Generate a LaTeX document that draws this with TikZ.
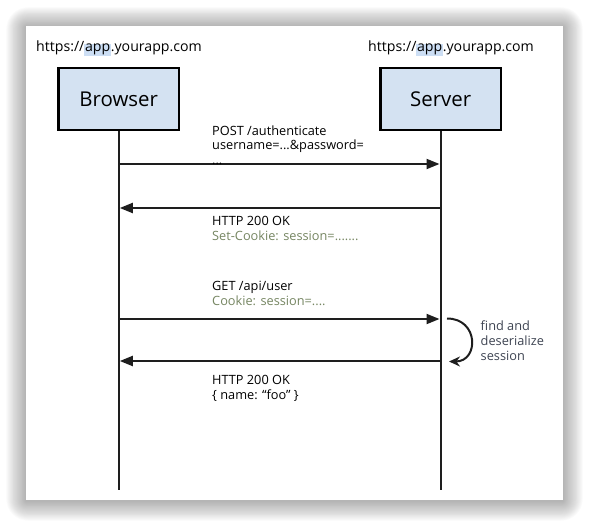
\documentclass[tikz,border=0pt]{standalone}
\usepackage{fontspec}
\setmainfont{Open Sans}
\usepackage{tikz}
\usetikzlibrary{positioning, arrows.meta}
\usepackage{xcolor}

\definecolor{boxblue}{RGB}{212,226,242}
\definecolor{hlblue}{RGB}{204,222,244}
\definecolor{cookiegreen}{RGB}{118,134,98}
\definecolor{notegray}{RGB}{62,68,82}
\definecolor{lifeline}{RGB}{30,30,30}

\newcommand{\urltext}{https://{\setlength{\fboxsep}{0.6pt}\colorbox{hlblue}{app}}.yourapp.com}

\tikzset{
  actor/.style={draw=black, line width=2.2, fill=boxblue, minimum width=121,
    minimum height=63, font=\fontsize{20.5}{24}\selectfont},
  url/.style={anchor=base west, inner sep=0, font=\fontsize{14.2}{16}\selectfont},
  msg/.style={anchor=north west, inner sep=0, align=left,
    font=\fontsize{12.8}{14.5}\selectfont},
  note/.style={anchor=north west, inner sep=0, align=left, text=notegray,
    font=\fontsize{12.8}{15}\selectfont},
  life/.style={lifeline, line width=2},
  call/.style={lifeline, line width=2, -{Triangle[length=13, width=10]}},
}

\begin{document}
\begin{tikzpicture}[x=1bp, y=-1bp]
    \useasboundingbox (0,0) rectangle (589,527);

    % card with soft shadow
    \foreach \i in {1,...,22}
        \fill[black, opacity=0.016, rounded corners=\i] (26-\i*0.9, 27-\i*0.9) rectangle (563+\i*0.9, 501+\i*0.9);
    \fill[white] (26,26) rectangle (563,500);

    % urls
    \node[url] (burl) at (36,52) {\urltext};
    \node[url] (surl) at (368,52) {\urltext};

    % actors
    \node[actor] (browser) at (118.7,99) {Browser};
    \node[actor] (server) at (440.7,99) {Server};

    % lifelines
    \coordinate (bend) at (118.7,490);
    \coordinate (send) at (440.7,490);
    \draw[life] (browser.south) -- (bend);
    \draw[life] (server.south) -- (send);

    % message rows
    \coordinate (b1) at (118.7,164);  \coordinate (s1) at (439.5,164);
    \coordinate (b2) at (119.8,208);  \coordinate (s2) at (440.7,208);
    \coordinate (b3) at (118.7,319);  \coordinate (s3) at (439.5,319);
    \coordinate (b4) at (119.8,361);  \coordinate (s4) at (440.7,361);

    % POST /authenticate
    \draw[call] (b1) -- (s1);
    \node[msg] (login) at (212,125.5) {POST /authenticate\\username=...\&password=\\...};

    % response with cookie
    \draw[call] (s2) -- (b2);
    \node[msg] (setcookie) at (212,216.5) {HTTP 200 OK\\\textcolor{cookiegreen}{Set-Cookie: session=.......}};

    % GET /api/user
    \draw[call] (b3) -- (s3);
    \node[msg] (getuser) at (212,281) {GET /api/user\\\textcolor{cookiegreen}{Cookie: session=....}};

    % server looks up session
    \coordinate (lookin) at (447,318.5);
    \coordinate (lookout) at (449,361.5);
    \draw[lifeline, line width=2, -{Stealth[length=11, width=10]}]
        (lookin) .. controls (479,318.5) and (479,361.5) .. (lookout);
    \node[note] (lookup) at (480.5,321) {find and\\deserialize\\session};

    % response with user
    \draw[call] (s4) -- (b4);
    \node[msg] (user) at (212,375.5) {HTTP 200 OK\\\{ name: “foo” \}};
\end{tikzpicture}
\end{document}
